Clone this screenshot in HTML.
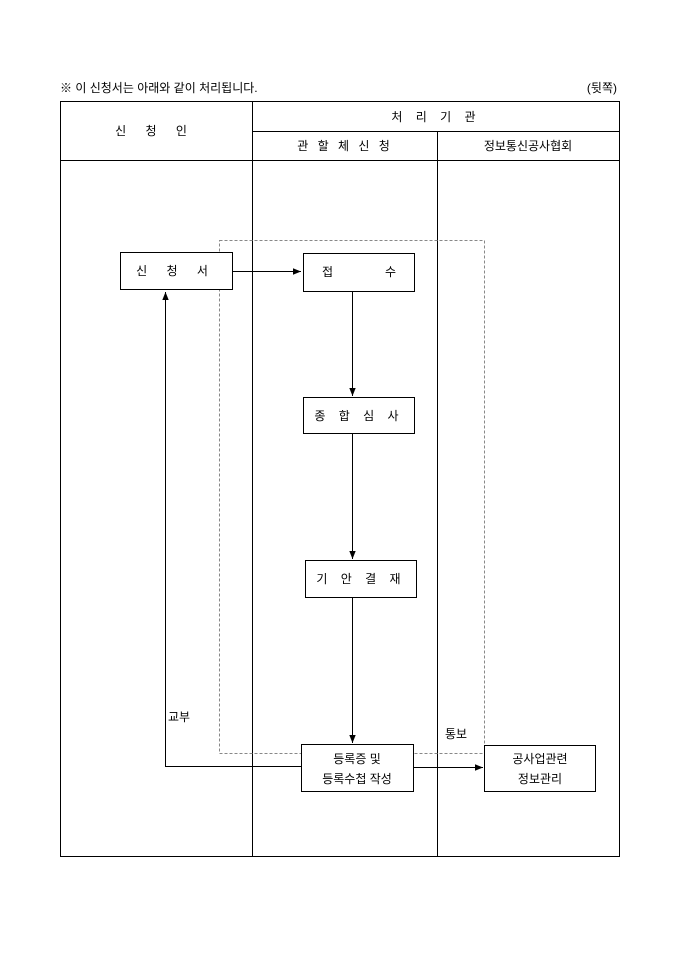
<!DOCTYPE html>
<html><head><meta charset="utf-8"><style>
body{margin:0;background:#fff;}
svg text{font-family:"Liberation Sans","Noto Sans CJK KR","NanumGothic",sans-serif;font-size:12px;fill:#000;}
</style></head><body>
<svg width="680" height="962" viewBox="0 0 680 962" xmlns="http://www.w3.org/2000/svg">
<defs><marker id="a" viewBox="0 0 10 10" refX="10" refY="5" markerWidth="8" markerHeight="8" orient="auto"><path d="M0,1 L10,5 L0,9z" fill="#000"/></marker></defs>
<text x="60" y="92">※ 이 신청서는 아래와 같이 처리됩니다.</text>
<text x="617" y="92" text-anchor="end">(뒷쪽)</text>
<g stroke="#000" stroke-width="1" fill="none">
<rect x="60.5" y="101.5" width="559" height="755"/>
<line x1="252.5" y1="101" x2="252.5" y2="856"/>
<line x1="437.5" y1="131" x2="437.5" y2="856"/>
<line x1="252" y1="131.5" x2="619" y2="131.5"/>
<line x1="60" y1="160.5" x2="619" y2="160.5"/>
<rect x="219.5" y="240.5" width="265" height="513" stroke="#888" stroke-dasharray="3,2"/>
<rect x="120.5" y="252.5" width="112" height="37" fill="#fff"/>
<rect x="303.5" y="253.5" width="111" height="38" fill="#fff"/>
<rect x="303.5" y="397.5" width="111" height="36" fill="#fff"/>
<rect x="305.5" y="560.5" width="111" height="37" fill="#fff"/>
<rect x="301.5" y="744.5" width="112" height="47" fill="#fff"/>
<rect x="484.5" y="745.5" width="111" height="46" fill="#fff"/>
<line x1="232" y1="271.5" x2="301" y2="271.5" marker-end="url(#a)"/>
<line x1="352.5" y1="292" x2="352.5" y2="396" marker-end="url(#a)"/>
<line x1="352.5" y1="434" x2="352.5" y2="559" marker-end="url(#a)"/>
<line x1="352.5" y1="598" x2="352.5" y2="743" marker-end="url(#a)"/>
<polyline points="301,766.5 165.5,766.5 165.5,292" marker-end="url(#a)"/>
<line x1="414" y1="767.5" x2="483" y2="767.5" marker-end="url(#a)"/>
</g>
<text x="155" y="135" text-anchor="middle" letter-spacing="8">신 청 인</text>
<text x="436" y="121" text-anchor="middle" letter-spacing="5">처 리 기 관</text>
<text x="345" y="150" text-anchor="middle" letter-spacing="3">관 할 체 신 청</text>
<text x="528" y="150" text-anchor="middle">정보통신공사협회</text>
<text x="176" y="275" text-anchor="middle" letter-spacing="8">신 청 서</text>
<text x="322" y="276">접</text><text x="385" y="276">수</text>
<text x="359" y="420" text-anchor="middle" letter-spacing="5">종 합 심 사</text>
<text x="361" y="583" text-anchor="middle" letter-spacing="5">기 안 결 재</text>
<text x="357" y="763" text-anchor="middle">등록증 및</text>
<text x="357" y="783" text-anchor="middle">등록수첩 작성</text>
<text x="540" y="763" text-anchor="middle">공사업관련</text>
<text x="540" y="783" text-anchor="middle">정보관리</text>
<text x="168" y="721">교부</text>
<text x="445" y="738">통보</text>
</svg>
</body></html>
